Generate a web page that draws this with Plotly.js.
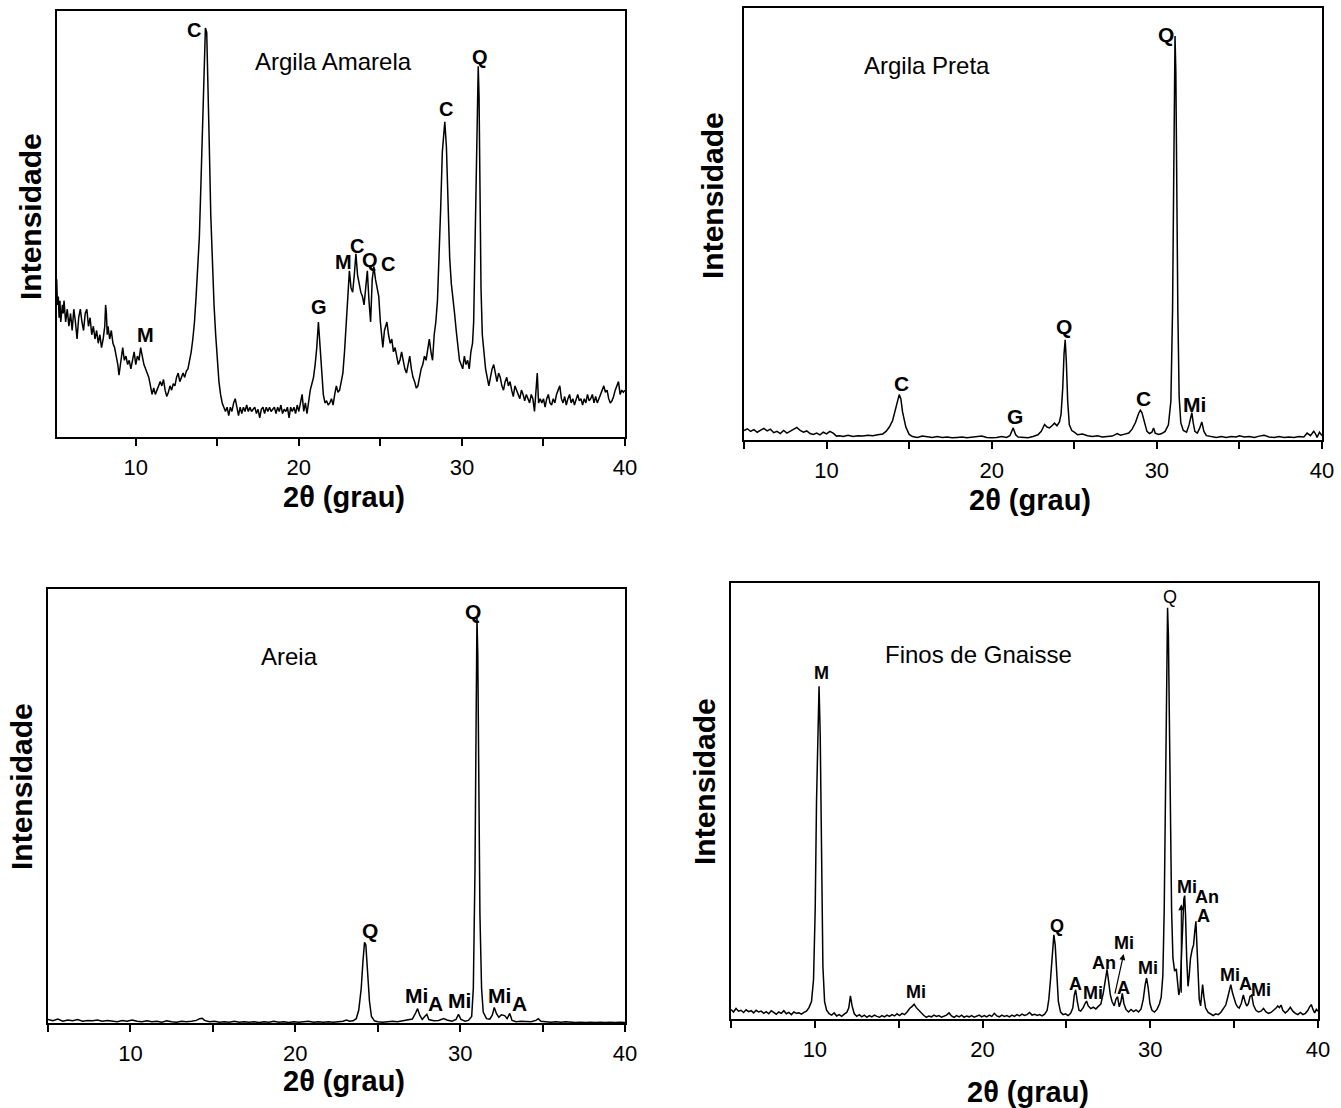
<!DOCTYPE html>
<html>
<head>
<meta charset="utf-8">
<script src="https://cdn.plot.ly/plotly-3.0.1.min.js"></script>
<style>html,body{margin:0;padding:0;background:#fff;}#chart{width:1341px;height:1108px;}</style>
</head>
<body>
<div id="chart"></div>
<script>
// ---- Data: [2theta (grau), intensidade (relative)] ----
const argilaAmarela = [
[5.0,32],[5.05,35],[5.1,29],[5.15,37],[5.2,31],[5.25,33],[5.3,28],[5.35,32],[5.4,27],[5.5,31],[5.55,29],[5.6,32],[5.7,27],[5.8,30],[5.9,26],[6.0,29],[6.1,25],[6.2,30],[6.3,27],[6.35,24],[6.4,23],[6.5,28],[6.6,30],[6.7,27],[6.8,25],[6.9,29],[7.0,30],[7.1,26],[7.2,28],[7.3,24],[7.4,26],[7.5,23],[7.6,25],[7.7,22],[7.8,24],[7.9,21],[8.0,23],[8.1,26],[8.15,31],[8.2,29],[8.25,24],[8.3,26],[8.4,23],[8.5,25],[8.6,22],[8.7,21],[8.8,19],[8.9,17],[8.97,14.5],[9.05,17],[9.15,20],[9.2,21],[9.3,18],[9.4,19],[9.5,17],[9.6,18],[9.7,16],[9.8,18],[9.9,20],[10.0,17],[10.1,19],[10.2,18],[10.3,21],[10.4,19],[10.5,17],[10.6,16],[10.7,15],[10.8,14],[10.9,12],[11.0,10],[11.1,11.5],[11.2,10],[11.3,11],[11.4,12],[11.5,13],[11.6,12],[11.7,13.5],[11.8,11],[11.9,9.5],[12.0,10.5],[12.1,12],[12.2,11],[12.3,12.5],[12.4,12],[12.5,14],[12.6,15],[12.7,13],[12.8,14],[12.9,15],[13.0,14],[13.1,15.5],[13.2,16],[13.3,18],[13.4,20],[13.5,23],[13.6,27],[13.7,33],[13.8,39],[13.9,47],[14.0,60],[14.1,74],[14.17,83],[14.27,96],[14.35,95],[14.42,85],[14.5,70],[14.6,52],[14.7,39],[14.8,31],[14.9,24],[15.0,18],[15.1,13],[15.2,10],[15.3,8],[15.4,7],[15.5,6],[15.6,7],[15.7,5],[15.8,7],[15.9,6],[16.0,8],[16.1,9],[16.2,7],[16.3,5],[16.4,7],[16.5,5.5],[16.6,7],[16.7,6],[16.8,7.5],[16.9,6],[17.0,7],[17.1,6],[17.2,6.5],[17.3,7],[17.4,5.5],[17.5,6.5],[17.6,4.5],[17.7,6.5],[17.8,7],[17.9,5.5],[18.0,7],[18.1,6],[18.2,7],[18.3,6],[18.4,6.5],[18.5,7],[18.6,5.5],[18.7,7],[18.8,6],[18.9,7.5],[19.0,5.5],[19.1,6.5],[19.2,6],[19.3,7],[19.4,4.5],[19.5,7],[19.6,6],[19.7,7],[19.8,5.5],[19.9,7.5],[20.0,6],[20.1,8],[20.2,10],[20.3,6],[20.4,8],[20.5,5.5],[20.6,9],[20.7,11],[20.8,12.5],[20.9,14],[21.0,17],[21.1,21],[21.2,27],[21.3,22],[21.4,15],[21.5,10],[21.6,8],[21.7,8.5],[21.8,7.5],[21.9,8],[22.0,9],[22.1,7.5],[22.2,10],[22.3,12],[22.4,10.5],[22.5,11],[22.6,13],[22.7,15],[22.8,20],[22.9,27],[23.0,35],[23.1,39],[23.2,35],[23.3,34],[23.4,38],[23.5,43],[23.6,38],[23.7,36],[23.8,34],[23.9,33],[24.0,31],[24.1,35],[24.2,39],[24.3,32],[24.4,27],[24.5,37],[24.6,40],[24.7,37],[24.8,35],[24.9,33],[25.0,27],[25.1,23],[25.15,21],[25.25,25],[25.4,27],[25.5,24],[25.6,22],[25.7,23],[25.8,20],[25.9,21],[26.0,19],[26.1,17],[26.2,18],[26.3,20],[26.4,18],[26.5,16],[26.6,15],[26.7,17],[26.8,19],[26.9,16],[27.0,14],[27.1,13],[27.2,11.5],[27.3,12],[27.4,14],[27.5,16],[27.6,17],[27.7,19],[27.8,18],[27.9,21],[28.0,23],[28.1,20],[28.2,18],[28.3,24],[28.4,27],[28.5,32],[28.6,42],[28.7,54],[28.8,67],[28.9,73],[28.95,74],[29.05,68],[29.15,55],[29.25,42],[29.35,36],[29.45,33],[29.55,29],[29.65,25],[29.75,21],[29.85,18],[29.95,17],[30.05,16],[30.15,19],[30.25,17],[30.35,18],[30.45,16],[30.55,20],[30.65,22],[30.72,27],[30.8,45],[30.88,68],[30.95,82],[31.0,87],[31.05,80],[31.1,60],[31.17,35],[31.25,24],[31.35,19],[31.45,16],[31.55,14],[31.65,12],[31.75,14],[31.85,16],[31.95,17],[32.05,15],[32.15,13],[32.25,15],[32.35,14],[32.45,12],[32.55,11],[32.65,13],[32.75,14],[32.85,12],[32.95,13],[33.05,11],[33.15,9.5],[33.25,12],[33.35,11],[33.45,10],[33.55,9],[33.65,11],[33.75,10],[33.85,8.5],[33.95,10],[34.05,9],[34.15,8],[34.25,10],[34.35,9],[34.45,6],[34.55,11],[34.62,15],[34.7,8],[34.8,9],[34.9,8],[35.0,9],[35.1,7],[35.2,9],[35.3,10],[35.4,8],[35.5,7.5],[35.6,9],[35.7,8],[35.8,10],[35.9,11],[36.0,12],[36.1,9],[36.2,8],[36.3,9.5],[36.4,7.5],[36.5,9],[36.6,10],[36.7,8],[36.8,9],[36.9,7.5],[37.0,9],[37.1,10],[37.2,8.5],[37.3,9],[37.4,7.5],[37.5,9],[37.6,8],[37.7,10],[37.8,8.5],[37.9,9],[38.0,10],[38.1,8],[38.2,9.5],[38.3,8],[38.4,9],[38.5,10],[38.6,11],[38.7,12],[38.8,10.5],[38.9,11],[39.0,9],[39.1,8],[39.2,8.5],[39.3,9.5],[39.4,11],[39.5,12],[39.6,13],[39.7,10],[39.8,11],[39.9,10.5],[40.0,11]
];

const argilaPreta = [
[5.0,2.2],[5.2,2.6],[5.4,2.0],[5.6,2.4],[5.8,1.8],[6.0,2.3],[6.2,2.7],[6.4,2.1],[6.6,2.5],[6.8,1.7],[7.0,2.0],[7.2,1.5],[7.4,2.2],[7.6,1.6],[7.8,2.0],[8.0,2.4],[8.2,2.9],[8.4,2.2],[8.6,1.8],[8.8,2.1],[9.0,1.5],[9.2,1.3],[9.4,1.6],[9.6,1.2],[9.8,1.8],[10.0,1.4],[10.2,2.0],[10.4,1.6],[10.6,0.9],[10.8,1.0],[11.0,0.8],[11.3,1.1],[11.6,0.8],[11.9,1.0],[12.2,0.9],[12.5,1.1],[12.8,1.0],[13.1,1.2],[13.4,1.4],[13.6,2.0],[13.8,3.0],[14.0,4.5],[14.2,7.2],[14.4,10.5],[14.5,9.5],[14.6,6.5],[14.8,3.0],[15.0,1.3],[15.2,0.8],[15.5,0.6],[15.8,0.9],[16.1,0.7],[16.4,0.6],[16.7,0.8],[17.0,0.6],[17.3,0.7],[17.6,0.5],[17.9,0.6],[18.2,0.7],[18.5,0.5],[18.8,0.6],[19.1,0.7],[19.4,0.9],[19.7,0.6],[20.0,0.5],[20.3,0.6],[20.6,0.8],[20.9,0.6],[21.1,1.0],[21.3,2.8],[21.45,1.2],[21.6,0.7],[21.9,0.6],[22.2,0.5],[22.5,0.8],[22.8,1.2],[23.0,2.0],[23.2,3.6],[23.35,3.0],[23.5,2.8],[23.65,3.3],[23.8,3.9],[23.95,3.3],[24.1,4.2],[24.2,6.0],[24.3,12],[24.38,20],[24.45,23.2],[24.52,18],[24.6,9],[24.7,3.5],[24.85,2.2],[25.0,1.8],[25.2,1.2],[25.5,1.4],[25.8,1.0],[26.1,0.8],[26.4,1.0],[26.7,0.7],[27.0,0.8],[27.3,0.9],[27.6,1.5],[27.8,1.1],[28.0,1.3],[28.3,1.6],[28.5,2.5],[28.7,4.0],[28.9,6.2],[29.0,6.9],[29.1,6.3],[29.25,4.0],[29.4,2.0],[29.55,1.5],[29.7,1.8],[29.8,2.8],[29.9,1.6],[30.1,1.3],[30.3,1.5],[30.5,2.0],[30.7,3.5],[30.85,9],[30.95,30],[31.02,60],[31.1,93.5],[31.15,85],[31.2,60],[31.27,30],[31.35,10],[31.45,4],[31.6,2.2],[31.8,1.8],[31.95,3.5],[32.05,5.5],[32.12,6.3],[32.2,4.0],[32.3,2.0],[32.45,1.6],[32.6,2.8],[32.72,4.2],[32.85,2.0],[33.0,1.0],[33.3,0.8],[33.6,0.6],[33.9,0.8],[34.2,0.6],[34.5,0.8],[34.8,0.7],[35.0,1.0],[35.3,0.7],[35.6,0.8],[35.9,0.6],[36.2,0.9],[36.5,1.1],[36.8,0.7],[37.1,0.6],[37.4,0.8],[37.7,0.6],[38.0,0.7],[38.3,0.6],[38.6,0.8],[38.9,0.7],[39.1,1.6],[39.3,1.0],[39.5,2.0],[39.6,1.5],[39.7,0.6],[39.85,1.8],[40.0,1.0]
];

const areia = [
[5.0,0.8],[5.3,0.5],[5.6,0.9],[5.9,0.4],[6.2,0.7],[6.5,0.5],[6.8,0.8],[7.1,0.4],[7.4,0.6],[7.7,0.5],[8.0,0.7],[8.3,0.4],[8.6,0.6],[8.9,0.5],[9.2,0.3],[9.5,0.6],[9.8,0.4],[10.1,0.7],[10.4,0.4],[10.7,0.3],[11.0,0.5],[11.3,0.3],[11.6,0.4],[11.9,0.2],[12.2,0.5],[12.5,0.3],[12.8,0.2],[13.1,0.4],[13.4,0.3],[13.7,0.4],[14.0,0.6],[14.2,1.0],[14.35,1.1],[14.5,0.6],[14.8,0.3],[15.1,0.4],[15.4,0.2],[15.7,0.3],[16.0,0.2],[16.3,0.4],[16.6,0.2],[16.9,0.3],[17.2,0.2],[17.5,0.3],[17.8,0.1],[18.1,0.3],[18.4,0.2],[18.7,0.4],[19.0,0.2],[19.3,0.3],[19.6,0.1],[19.9,0.3],[20.2,0.2],[20.5,0.3],[20.8,0.4],[21.1,0.2],[21.4,0.3],[21.7,0.2],[22.0,0.3],[22.3,0.2],[22.6,0.3],[22.9,0.4],[23.1,0.7],[23.3,0.4],[23.5,0.5],[23.7,1.0],[23.85,3.0],[24.0,8.0],[24.1,14],[24.2,18.6],[24.28,18.0],[24.38,13],[24.5,5],[24.62,1.5],[24.8,0.5],[25.0,0.3],[25.3,0.2],[25.6,0.3],[25.9,0.4],[26.2,0.3],[26.5,0.5],[26.8,0.6],[27.1,0.9],[27.3,2.3],[27.42,3.3],[27.55,1.8],[27.7,0.8],[27.85,1.5],[27.98,2.0],[28.1,0.8],[28.4,0.5],[28.7,0.6],[29.0,1.0],[29.2,0.7],[29.5,0.4],[29.75,0.8],[29.9,2.0],[30.05,0.8],[30.3,0.4],[30.5,0.6],[30.7,1.5],[30.8,8],[30.9,35],[30.97,70],[31.02,93.3],[31.07,85],[31.13,55],[31.2,25],[31.3,8],[31.4,2.5],[31.6,1.0],[31.8,0.9],[31.95,1.8],[32.07,3.6],[32.2,2.2],[32.35,1.3],[32.5,1.9],[32.7,1.7],[32.85,1.0],[33.01,2.2],[33.15,0.6],[33.4,0.3],[33.7,0.4],[34.0,0.3],[34.3,0.3],[34.6,0.6],[34.74,1.0],[34.9,0.4],[35.2,0.3],[35.5,0.2],[35.8,0.3],[36.1,0.2],[36.4,0.3],[36.7,0.2],[37.0,0.1],[37.3,0.2],[37.6,0.1],[37.9,0.2],[38.2,0.1],[38.5,0.2],[38.8,0.1],[39.1,0.2],[39.4,0.1],[39.7,0.2],[40.0,0.1]
];

const finosGnaisse = [
[5.0,2.2],[5.15,1.6],[5.3,2.4],[5.45,1.8],[5.6,2.0],[5.75,1.5],[5.9,2.1],[6.05,1.7],[6.2,1.9],[6.35,1.4],[6.5,2.0],[6.65,1.6],[6.8,1.8],[6.95,1.3],[7.1,1.7],[7.25,1.2],[7.4,1.9],[7.55,1.4],[7.7,1.1],[7.85,1.6],[8.0,1.3],[8.15,1.9],[8.3,1.2],[8.45,1.5],[8.6,1.0],[8.75,1.6],[8.9,1.3],[9.05,1.4],[9.2,1.1],[9.35,1.5],[9.5,1.8],[9.65,2.6],[9.8,4.0],[9.92,9],[10.02,25],[10.1,50],[10.18,70],[10.25,76.3],[10.32,65],[10.4,35],[10.48,12],[10.58,4],[10.7,2.0],[10.85,1.2],[11.0,0.9],[11.15,1.4],[11.3,0.7],[11.45,1.0],[11.6,0.6],[11.75,1.1],[11.9,1.5],[12.02,2.5],[12.12,5.3],[12.22,3.0],[12.35,1.2],[12.5,0.6],[12.65,1.0],[12.8,0.5],[12.95,0.9],[13.1,0.4],[13.25,0.8],[13.4,0.5],[13.55,0.9],[13.7,0.6],[13.85,0.4],[14.0,0.8],[14.15,0.5],[14.3,0.9],[14.45,0.6],[14.6,1.0],[14.75,0.7],[14.9,1.2],[15.05,0.8],[15.2,1.3],[15.35,1.0],[15.5,1.6],[15.65,2.4],[15.8,2.9],[15.92,3.4],[16.05,2.6],[16.2,2.0],[16.35,1.2],[16.5,0.8],[16.65,0.4],[16.8,0.7],[16.95,0.5],[17.1,0.9],[17.25,0.6],[17.4,0.8],[17.55,0.4],[17.7,0.7],[17.85,0.9],[18.0,1.4],[18.15,0.7],[18.3,0.4],[18.45,0.8],[18.6,0.5],[18.75,0.9],[18.9,0.4],[19.05,0.7],[19.2,0.5],[19.35,0.8],[19.5,0.4],[19.65,0.7],[19.8,0.9],[19.95,0.5],[20.1,0.8],[20.25,0.5],[20.4,0.9],[20.55,0.6],[20.7,1.3],[20.85,0.7],[21.0,0.5],[21.15,0.9],[21.3,0.6],[21.45,0.8],[21.6,0.5],[21.75,0.9],[21.9,0.6],[22.05,1.0],[22.2,0.7],[22.35,1.1],[22.5,0.8],[22.65,1.0],[22.8,1.5],[22.95,0.9],[23.1,1.1],[23.25,0.8],[23.4,1.0],[23.55,0.7],[23.7,1.1],[23.85,2.0],[23.95,4.5],[24.05,9],[24.15,14],[24.25,19.3],[24.33,17],[24.42,10],[24.52,4],[24.65,1.6],[24.8,1.0],[24.95,1.2],[25.1,0.8],[25.25,1.3],[25.38,2.5],[25.47,5.5],[25.55,6.7],[25.65,4.0],[25.75,2.0],[25.85,1.8],[26.0,2.6],[26.1,3.5],[26.2,4.1],[26.3,3.0],[26.45,2.4],[26.6,2.7],[26.75,2.3],[26.9,2.9],[27.05,3.4],[27.2,6.0],[27.32,9.5],[27.42,11.4],[27.52,8.5],[27.62,5.5],[27.72,4.0],[27.85,3.0],[27.95,4.5],[28.05,5.1],[28.15,2.8],[28.25,4.0],[28.33,5.9],[28.43,3.5],[28.55,2.2],[28.7,1.6],[28.85,2.2],[29.0,1.7],[29.15,2.1],[29.3,1.6],[29.45,2.3],[29.58,4.5],[29.7,8.0],[29.78,9.4],[29.88,7.0],[29.98,3.5],[30.1,2.0],[30.25,1.6],[30.4,2.2],[30.55,3.5],[30.65,5.0],[30.75,10],[30.83,25],[30.9,45],[30.97,70],[31.03,94.3],[31.08,88],[31.14,70],[31.2,45],[31.27,25],[31.35,14],[31.45,11.0],[31.55,11.5],[31.62,9],[31.7,5.5],[31.78,7],[31.85,14],[31.93,22],[32.0,27.5],[32.05,28.3],[32.1,24],[32.17,14],[32.25,7.5],[32.32,10],[32.4,14],[32.5,16],[32.58,17],[32.65,20],[32.72,22.4],[32.78,17],[32.85,9],[32.92,4.5],[33.0,3.0],[33.06,5.5],[33.12,7.9],[33.2,5],[33.3,2.5],[33.45,1.5],[33.6,1.2],[33.75,0.8],[33.9,1.2],[34.05,1.0],[34.2,1.5],[34.35,2.4],[34.5,3.2],[34.62,5.0],[34.72,7.0],[34.8,7.9],[34.9,6.0],[35.0,4.5],[35.1,3.5],[35.2,2.8],[35.3,2.5],[35.42,3.5],[35.55,5.5],[35.65,4.0],[35.75,3.0],[35.85,3.5],[35.95,5.2],[36.05,5.5],[36.15,3.2],[36.3,2.0],[36.45,1.6],[36.6,1.8],[36.75,2.4],[36.9,1.6],[37.05,1.3],[37.2,1.5],[37.35,1.9],[37.5,2.5],[37.6,3.0],[37.7,2.6],[37.8,3.2],[37.9,2.0],[38.05,1.4],[38.2,1.9],[38.35,2.7],[38.5,1.8],[38.65,1.3],[38.8,1.0],[38.95,1.5],[39.1,1.0],[39.25,1.3],[39.4,2.0],[39.5,2.8],[39.6,3.3],[39.7,2.2],[39.8,1.4],[39.9,2.2],[40.0,1.8]
];

const sampleNames = ['Argila Amarela', 'Argila Preta', 'Areia', 'Finos de Gnaisse'];
const xTitle = '2θ (grau)';
const yTitle = 'Intensidade';
const tickValues = [10, 20, 30, 40];

// Phase labels: [text, 2theta, intensity]
const labelsAmarela = [['C',13.57,95.5],['Q',31.11,89.2],['C',29.02,77.0],['M',10.57,23.9],['G',21.23,30.5],['M',22.71,41.1],['C',23.56,44.8],['Q',24.36,41.5],['C',25.46,40.6]];
const labelsPreta = [['Q',30.54,93.75],['Q',24.40,26.2],['C',14.55,13.1],['G',21.41,5.4],['C',29.19,9.65],['Mi',32.28,8.3]];
const labelsAreia = [['Q',30.78,94.9],['Q',24.53,21.4],['Mi',27.33,6.3],['A',28.48,4.4],['Mi',29.96,5.2],['Mi',32.39,6.3],['A',33.58,4.4]];
const labelsGnaisse = [['M',10.37,79.4],['Mi',16.04,6.2],['Q',24.44,21.3],['A',25.57,8.0],['Mi',26.59,6.0],['An',27.24,12.8],['Mi',28.43,17.4],['A',28.43,7.1],['Mi',29.87,11.7],['Mi',32.19,30.3],['An',33.38,28.0],['A',33.15,23.6],['Mi',34.76,10.1],['A',35.65,8.0],['Mi',36.60,6.7]];
const topLabelGnaisse = ['Q', 31.20, 96.8];

// ---- Layout ----
const FONT = 'Liberation Sans, Arial, Helvetica, sans-serif';
const W = 1341, H = 1108;
const panels = [
  {data: argilaAmarela, labels: labelsAmarela, lsize: 20, x0: 57, x1: 625, yTop: 11, yBot: 437, xmin: 5.17, name: [333, 61], xt: [344, 497], yt: [30, 217]},
  {data: argilaPreta, labels: labelsPreta, lsize: 21, x0: 744, x1: 1322, yTop: 8, yBot: 440, xmin: 5, name: [927, 66], xt: [1030, 500], yt: [713, 196]},
  {data: areia, labels: labelsAreia, lsize: 21, x0: 48, x1: 625, yTop: 589, yBot: 1023, xmin: 5, name: [289, 656], xt: [344, 1081], yt: [21, 787]},
  {data: finosGnaisse, labels: labelsGnaisse, lsize: 18, x0: 731, x1: 1318, yTop: 583, yBot: 1019, xmin: 5, name: [978, 654], xt: [1028, 1092], yt: [704, 782]}
];

const traces = [];
const layout = {
  width: W, height: H, autosize: false,
  margin: {l: 0, r: 0, t: 0, b: 0, pad: 0},
  paper_bgcolor: '#fff', plot_bgcolor: '#fff',
  showlegend: false, hovermode: false,
  font: {family: FONT, color: '#000'},
  annotations: []
};

panels.forEach((p, i) => {
  const n = i === 0 ? '' : String(i + 1);
  const xa = 'xaxis' + n, ya = 'yaxis' + n;
  const xr = 'x' + n, yr = 'y' + n;
  traces.push({
    type: 'scatter', mode: 'lines', xaxis: xr, yaxis: yr,
    x: p.data.map(d => d[0]), y: p.data.map(d => d[1]),
    line: {color: '#000', width: 1.5, shape: 'linear'},
    hoverinfo: 'skip'
  });
  layout[xa] = {
    domain: [p.x0 / W, p.x1 / W], anchor: yr, range: [p.xmin, 40],
    showline: true, mirror: true, linecolor: '#000', linewidth: 2,
    showgrid: false, zeroline: false,
    tickmode: 'array', tickvals: tickValues, ticktext: tickValues.map(String),
    ticks: 'outside', ticklen: 7, tickwidth: 2, tickcolor: '#000',
    minor: {tickmode: 'array', tickvals: [5, 15, 25, 35], ticks: 'outside', ticklen: 7, tickwidth: 2, tickcolor: '#000', showgrid: false},
    tickfont: {family: FONT, size: 22, color: '#000'},
    ticklabelstandoff: 3,
    fixedrange: true
  };
  layout[ya] = {
    domain: [1 - p.yBot / H, 1 - p.yTop / H], anchor: xr, range: [0, 100],
    showline: true, mirror: true, linecolor: '#000', linewidth: 2,
    showgrid: false, zeroline: false, showticklabels: false, ticks: '',
    fixedrange: true
  };
  layout.annotations.push({xref: 'paper', yref: 'paper', x: p.name[0] / W, y: 1 - p.name[1] / H,
    xanchor: 'center', yanchor: 'middle', showarrow: false, text: sampleNames[i],
    font: {family: FONT, size: 24, color: '#000'}});
  layout.annotations.push({xref: 'paper', yref: 'paper', x: p.xt[0] / W, y: 1 - p.xt[1] / H,
    xanchor: 'center', yanchor: 'middle', showarrow: false, text: '<b>' + xTitle + '</b>',
    font: {family: FONT, size: 29, color: '#000'}});
  layout.annotations.push({xref: 'paper', yref: 'paper', x: p.yt[0] / W, y: 1 - p.yt[1] / H,
    xanchor: 'center', yanchor: 'middle', showarrow: false, textangle: -90, text: '<b>' + yTitle + '</b>',
    font: {family: FONT, size: 30, color: '#000'}});
  p.labels.forEach(l => {
    layout.annotations.push({xref: xr, yref: yr, x: l[1], y: l[2], xanchor: 'center', yanchor: 'middle',
      showarrow: false, text: '<b>' + l[0] + '</b>',
      font: {family: FONT, size: p.lsize, color: '#000'}});
  });
});

// Q label on top of Finos de Gnaisse is regular weight
layout.annotations.push({xref: 'x4', yref: 'y4', x: topLabelGnaisse[1], y: topLabelGnaisse[2], xanchor: 'center', yanchor: 'middle',
  showarrow: false, text: topLabelGnaisse[0], font: {family: FONT, size: 18, color: '#000'}});

// arrows in Finos de Gnaisse
layout.annotations.push({xref: 'x4', yref: 'y4', x: 28.41, y: 14.9, ax: -9, ay: 41, axref: 'pixel', ayref: 'pixel',
  text: '', showarrow: true, arrowhead: 2, arrowsize: 1, arrowwidth: 1.2, arrowcolor: '#000', standoff: 0});
layout.annotations.push({xref: 'x4', yref: 'y4', x: 31.85, y: 26.3, ax: 0, ay: 90, axref: 'pixel', ayref: 'pixel',
  text: '', showarrow: true, arrowhead: 2, arrowsize: 1, arrowwidth: 1.2, arrowcolor: '#000', standoff: 0});

Plotly.newPlot('chart', traces, layout, {staticPlot: true, displayModeBar: false});
</script>
</body>
</html>
